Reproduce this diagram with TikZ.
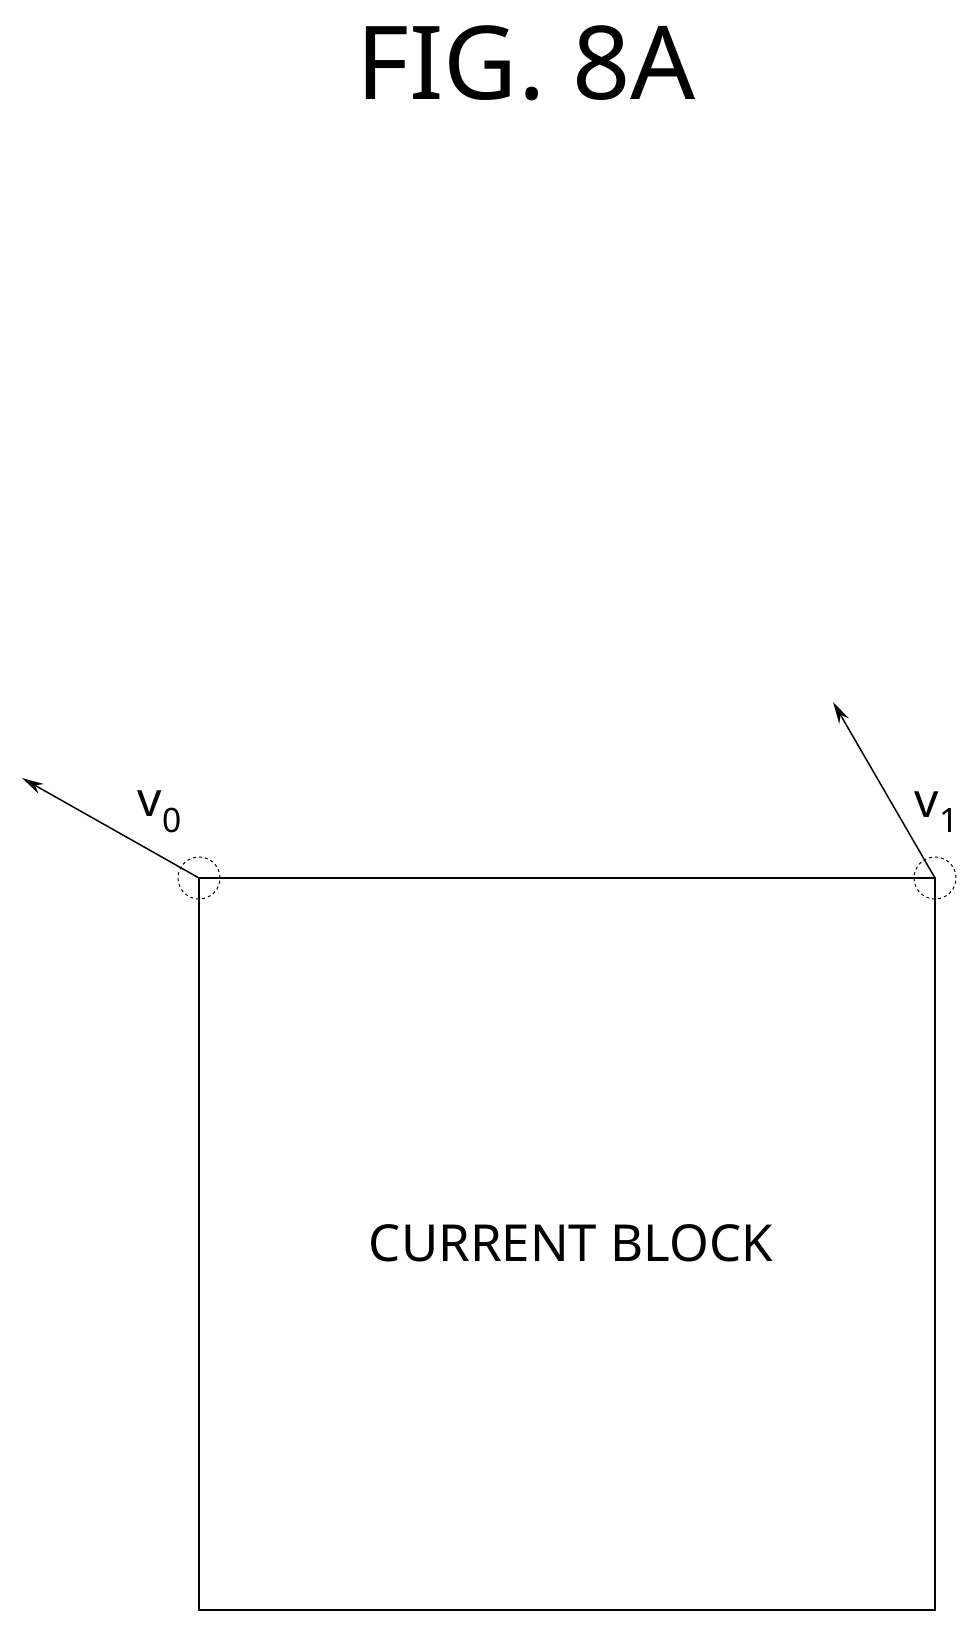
\documentclass[tikz,border=0pt]{standalone}
\usepackage{fontspec}
\setmainfont{Noto Sans}
\usetikzlibrary{arrows.meta}
\tikzset{
    every node/.style={inner sep=0pt},
    vec/.style={line width=1.5pt, -{Stealth[length=22pt, width=11pt]}},
    corner/.style={circle, draw, dashed, line width=1pt, minimum size=42pt}
}

\begin{document}
\begin{tikzpicture}[x=1pt, y=-1pt]
  \useasboundingbox (0,0) rectangle (975,1632);
  \node (title) at (526,63) {\fontsize{102}{110}\selectfont FIG. 8A};

  \coordinate (tl) at (199,878);
  \coordinate (tr) at (935,878);
  \coordinate (br) at (935,1610);
  \coordinate (bl) at (199,1610);
  \draw[line width=2.5pt] (tl) -- (tr) -- (br) -- (bl) -- cycle;
  \node (blk) at (571,1243) {\fontsize{51}{60}\selectfont CURRENT BLOCK};

  \node (c0) [corner] at (tl) {};
  \node (c1) [corner] at (tr) {};
  \coordinate (t0) at (22,778);
  \coordinate (t1) at (833,702);
  \draw[vec] (tl) -- (t0);
  \draw[vec] (tr) -- (t1);
  \node (v0) at (160,812) {\fontsize{48}{50}\selectfont v\textsubscript{0}};
  \node (v1) at (937,812) {\fontsize{48}{50}\selectfont v\textsubscript{1}};
\end{tikzpicture}
\end{document}
